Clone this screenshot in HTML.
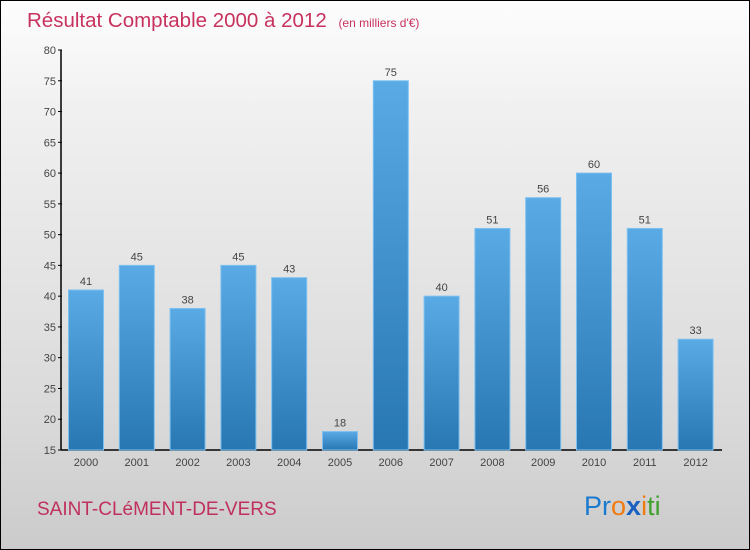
<!DOCTYPE html>
<html><head><meta charset="utf-8"><style>
body{margin:0;}
#wrap{position:relative;width:748px;height:548px;border:1px solid #000;background:linear-gradient(#fdfdfd,#f0f0f0 20%,#dadada 75%,#cbcbcb);font-family:"Liberation Sans",sans-serif;overflow:hidden}
</style></head><body>
<div id="wrap">
<svg id="chart" width="748" height="548">
<defs><linearGradient id="bg" x1="0" y1="0" x2="0" y2="1"><stop offset="0" stop-color="#5aaae6"/><stop offset="1" stop-color="#2877b3"/></linearGradient></defs>
<text x="26" y="26" font-size="20.5" fill="#c8325f">Résultat Comptable 2000 à 2012 <tspan font-size="12" dx="6">(en milliers d'€)</tspan></text>
<g id="ax"></g><g id="bars"></g>
<text x="36" y="514" font-size="19" fill="#c0305d">SAINT-CLéMENT-DE-VERS</text>
<text x="583" y="514" font-size="27"><tspan fill="#1a7ad0">Pr</tspan><tspan fill="#f07a10">o</tspan><tspan fill="#1a60c0" font-weight="bold">x</tspan><tspan fill="#f07a10">i</tspan><tspan fill="#40a030">ti</tspan></text>
</svg></div>
<script>
const categories=["2000","2001","2002","2003","2004","2005","2006","2007","2008","2009","2010","2011","2012"];
const values=[41,45,38,45,43,18,75,40,51,56,60,51,33];
const yTicks=[15,20,25,30,35,40,45,50,55,60,65,70,75,80];
const NS="http://www.w3.org/2000/svg";
const y=v=>449-(v-15)*400/65;
const x=i=>85+i*50.8;
function mk(t,a,p,txt){const e=document.createElementNS(NS,t);for(const k in a)e.setAttribute(k,a[k]);if(txt!=null)e.textContent=txt;p.appendChild(e);return e;}
const ax=document.getElementById('ax'),bars=document.getElementById('bars');
const yl=mk('line',{x1:60,y1:y(80),x2:60,y2:449,stroke:'#000','stroke-width':1.5},ax);


const xl=mk('line',{x1:60,y1:449,x2:721,y2:449,stroke:'#000','stroke-width':1.5},ax);


yTicks.forEach(t=>{
 mk('line',{x1:57,y1:y(t),x2:61,y2:y(t),stroke:'#000'},ax);
 const l=mk('text',{x:55,y:y(t)+4,'font-size':11,fill:'#444','text-anchor':'end'},ax,t);
 
 
});
categories.forEach((c,i)=>{
 const cx=x(i),v=values[i];
 const r=mk('rect',{x:cx-17.5,y:y(v),width:35,height:449-y(v),fill:'url(#bg)',stroke:'#7cc0f0','stroke-width':1},bars);
 
 
 const vl=mk('text',{x:cx,y:y(v)-5,'font-size':11,fill:'#444','text-anchor':'middle'},bars,v);
 
 
 const xlb=mk('text',{x:cx,y:465,'font-size':11,fill:'#444','text-anchor':'middle'},bars,c);
 
 
});
</script>
</body></html>
